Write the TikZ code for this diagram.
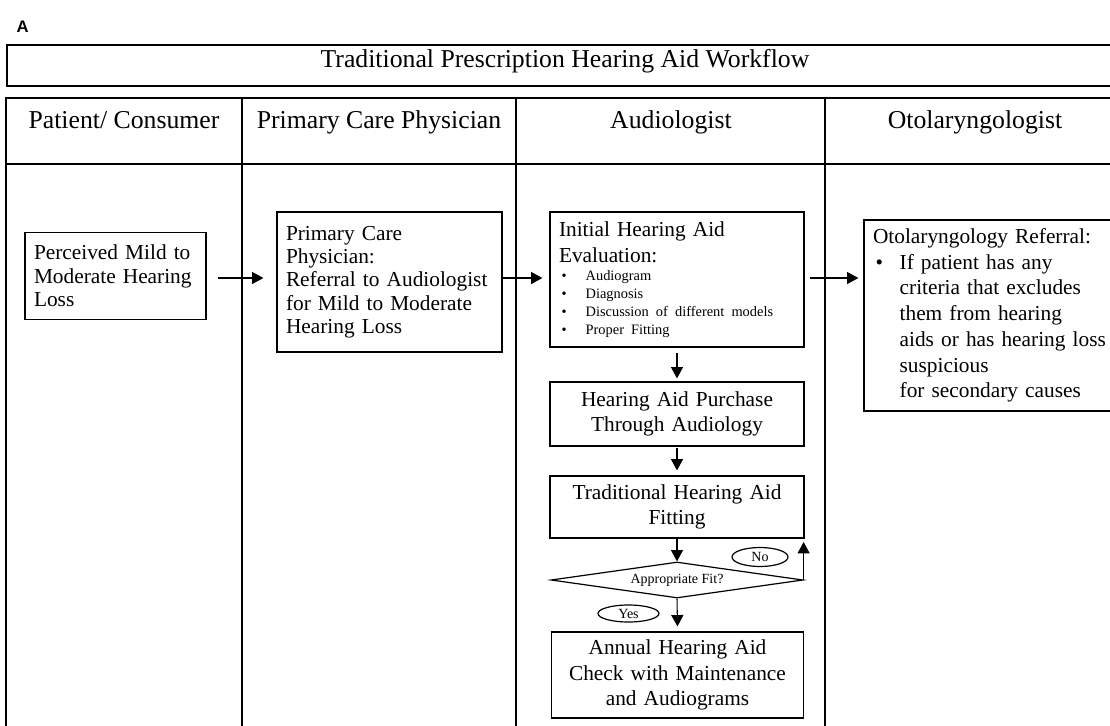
\documentclass[tikz,border=0pt]{standalone}
\usepackage{fontspec}
\setmainfont{Liberation Serif}
\setsansfont{Liberation Sans}
\usetikzlibrary{positioning}
\usetikzlibrary{calc}
\usetikzlibrary{arrows.meta}
\usetikzlibrary{shapes.geometric}
\newcommand\headfont{\fontsize{19.3}{22}\selectfont}
\newcommand\boxfont{\fontsize{16}{17.5}\selectfont}
\newcommand\wideboxfont{\fontsize{16}{19.3}\selectfont}
\newcommand\itemfont{\fontsize{10.8}{13.5}\selectfont}
\newcommand\lblfont{\fontsize{10.5}{12}\selectfont}
\newcommand\bitem{\hspace*{2pt}\makebox[18pt][l]{\textbullet}}
\tikzset{box/.style = {draw, line width=0.9pt, inner xsep=6.75pt, inner ysep=0pt}}
\tikzset{lbox/.style = {box, execute at begin node=\raggedright}}
\tikzset{cbox/.style = {box, execute at begin node=\centering}}
\tikzset{arr/.style = {line width=0.8pt, -{Triangle[length=8.5pt,width=9pt]}}}
\tikzset{lane/.style = {line width=1.2pt}}
\tikzset{tag/.style = {draw, ellipse, line width=0.9pt, inner sep=0pt, font=\lblfont}}
\tikzset{decision/.style = {draw, diamond, aspect=7, inner sep=0pt, line width=0.9pt,
                            font=\lblfont}}

\begin{document}
\begin{tikzpicture}[x=0.75pt, y=-0.75pt]
  \useasboundingbox (0,0) rectangle (1110,725);
  \clip (0,0) rectangle (1110,725);
  \node[anchor=base west, font=\sffamily\bfseries\fontsize{12.5}{14}\selectfont] (fig) at (12,32) {A};
  % lanes
  \draw[lane] (7,45) rectangle (1125,86);
  \draw[lane] (6,98) rectangle (1125,740);
  \draw[lane] (6,164) -- (1125,164);
  \foreach \x in {242,516,825}
    \draw[lane] (\x,98) -- (\x,740);
  \node[anchor=base, font=\headfont] (title) at (565,67) {Traditional Prescription Hearing Aid Workflow};
  \node[anchor=base, font=\headfont] (h1) at (124,128) {Patient/ Consumer};
  \node[anchor=base, font=\headfont] (h2) at (379,128) {Primary Care Physician};
  \node[anchor=base, font=\headfont] (h3) at (671,128) {Audiologist};
  \node[anchor=base, font=\headfont] (h4) at (975,128) {Otolaryngologist};
  % boxes
  \node[lbox, font=\boxfont, text width=122.25pt, minimum height=65.25pt]
    (perc) at (115.5,276) {Perceived Mild to\\Moderate Hearing\\Loss};
  \node[lbox, font=\boxfont, text width=155.25pt, minimum height=105pt]
    (pcp) at (389.5,282) {Primary Care\\Physician:\\Referral to Audiologist\\for Mild to Moderate\\Hearing Loss};
  \node[lbox, font=\wideboxfont, text width=177pt, minimum height=101.25pt]
    (init) at (677,279.5) {Initial Hearing Aid\\Evaluation:\par
      {\itemfont\bitem Audiogram\\\bitem Diagnosis\\\bitem Discussion of different models\\\bitem Proper Fitting\par}};
  \node[lbox, font=\wideboxfont, text width=182.25pt, minimum height=143.25pt]
    (oto) at (994.5,315.5) {Otolaryngology Referral:\\
      \bitem If patient has any\\
      \hspace*{20pt}criteria that excludes\\
      \hspace*{20pt}them from hearing\\
      \hspace*{20pt}aids or has hearing loss\\
      \hspace*{20pt}suspicious\\
      \hspace*{20pt}for secondary causes};
  \node[cbox, font=\wideboxfont, text width=177pt, minimum height=48pt]
    (purch) at (677,414) {Hearing Aid Purchase\\Through Audiology};
  \node[cbox, font=\wideboxfont, text width=177pt, minimum height=46.5pt]
    (trad) at (677,507) {Traditional Hearing Aid\\Fitting};
  \node[decision, minimum width=189pt, minimum height=27pt] (fit) at (677,580) {Appropriate Fit?};
  \node[cbox, font=\wideboxfont, text width=175.5pt, minimum height=64.5pt]
    (annual) at (677.5,675) {Annual Hearing Aid\\Check with Maintenance\\and Audiograms};
  \node[tag, minimum width=42pt, minimum height=14.25pt] (no) at (760,557) {No};
  \node[tag, minimum width=45.75pt, minimum height=12.75pt] (yes) at (628.5,613.5) {Yes};
  % arrows
  \coordinate (row) at (0,278);
  \coordinate (back) at ($(fit.east)+(0,-38)$);
  \draw[arr] ($(perc.east|-row)+(11,0)$) -- ($(pcp.west|-row)+(-13,0)$);
  \draw[arr] (pcp.east|-row) -- ($(init.west|-row)+(-7,0)$);
  \draw[arr] ($(init.east|-row)+(5,0)$) -- ($(oto.west|-row)+(-5,0)$);
  \draw[arr] ($(init.south)+(0,5)$) -- ($(purch.north)+(0,-3)$);
  \draw[arr] ($(purch.south)+(0,1)$) -- ($(trad.north)+(0,-5)$);
  \draw[arr] (trad.south) -- (fit.north);
  \draw[arr] (fit.south) -- ($(annual.north)+(0,-5)$);
  \draw[arr] (fit.east) -- (back);
\end{tikzpicture}
\end{document}
